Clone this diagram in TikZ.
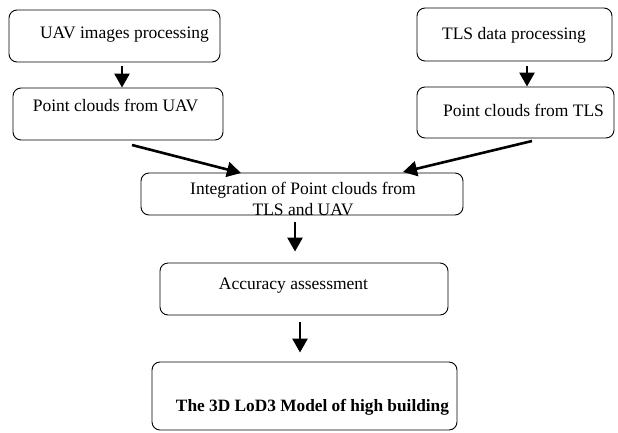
\documentclass[tikz,border=0pt]{standalone}
\usepackage{fontspec}
\setmainfont{Liberation Serif}
\usetikzlibrary{arrows.meta}
\begin{document}
\begin{tikzpicture}[x=1pt,y=-1pt,
  box/.style={draw,rounded corners=8pt,line width=0.9pt,inner sep=0pt},
  lbl/.style={font=\fontsize{17.5}{19}\selectfont,inner sep=0pt,anchor=base},
  arr/.style={line width=2.6pt,-{Triangle[length=14pt,width=15pt]}}]
\useasboundingbox (0,0) rectangle (618,432);
% boxes
\node[box,minimum width=211pt,minimum height=52pt] (b1) at (114.5,36) {};
\node[box,minimum width=210pt,minimum height=52pt] (b2) at (118,114) {};
\node[box,minimum width=195pt,minimum height=53pt] (b3) at (514.5,34.5) {};
\node[box,minimum width=197pt,minimum height=51pt] (b4) at (515.5,112.5) {};
\node[box,minimum width=322pt,minimum height=42pt] (b5) at (302,194) {};
\node[box,minimum width=288pt,minimum height=52pt] (b6) at (304,289) {};
\node[box,minimum width=305pt,minimum height=68pt] (b7) at (304.5,396) {};
% texts
\node[lbl] (t1) at (124.5,38) {UAV images processing};
\node[lbl] (t2) at (115.5,111) {Point clouds from UAV};
\node[lbl] (t3) at (514,39) {TLS data processing};
\node[lbl] (t4) at (523.5,116) {Point clouds from TLS};
\node[lbl] (t5) at (303,194) {Integration of Point clouds from};
\node[lbl] (t5b) at (303,215.5) {TLS and UAV};
\node[lbl] (t6) at (293.5,289) {Accuracy assessment};
\node[lbl,font=\fontsize{17.3}{19}\selectfont\bfseries] (t7) at (312.5,411) {The 3D LoD3 Model of high building};
% connector coordinates
\coordinate (c1) at (122,0);
\coordinate (c2) at (527,0);
\coordinate (c3) at (295,0);
\coordinate (c4) at (300,0);
\coordinate (d1s) at (132,145);
\coordinate (d1e) at (241,173);
\coordinate (d2s) at (532,141);
\coordinate (d2e) at (403,172);
% arrows
\draw[arr,shorten <=4pt] (b1.south -| c1) -- (b2.north -| c1);
\draw[arr,shorten <=5pt] (b3.south -| c2) -- (b4.north -| c2);
\draw[arr,shorten <=7pt,shorten >=11pt] (b5.south -| c3) -- (b6.north -| c3);
\draw[arr,shorten <=7pt,shorten >=9pt] (b6.south -| c4) -- (b7.north -| c4);
\draw[arr] (d1s) -- (d1e);
\draw[arr] (d2s) -- (d2e);
\end{tikzpicture}
\end{document}
